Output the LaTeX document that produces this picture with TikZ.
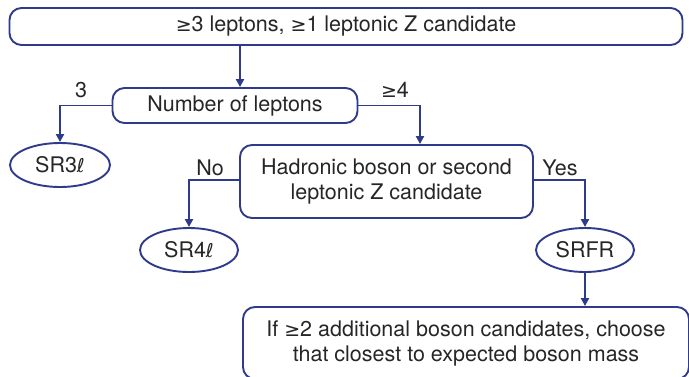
\documentclass[tikz,border=0pt]{standalone}
\usepackage{fontspec}
\setmainfont{TeX Gyre Heros}
\newfontfamily\dv{DejaVu Sans}
\usetikzlibrary{shapes.geometric,arrows.meta}
\definecolor{fc}{HTML}{2E3A8C}
\newcommand{\geqs}{{\dv\fontsize{19}{25}\selectfont ≥}}
\newcommand{\ellsym}{{\dv\fontsize{19}{25}\selectfont ℓ}}
\tikzset{
  box/.style={draw=fc, line width=1.9pt, rounded corners=12pt, align=center, inner sep=0pt},
  oval/.style={draw=fc, line width=1.9pt, ellipse, inner sep=0pt},
  conn/.style={draw=fc, line width=1.9pt, -{Triangle[length=8pt,width=8pt]}},
  lbl/.style={font=\fontsize{21.5}{25}\selectfont, text=black!85}
}
\begin{document}
\begin{tikzpicture}[x=1pt,y=-1pt, every node/.style={font=\fontsize{21.5}{25}\selectfont, text=black!85}]
\useasboundingbox (0,0) rectangle (689,376);
\node[box, minimum width=673pt, minimum height=37pt] (top) at (346,26.5) {\geqs3 leptons, \geqs1 leptonic Z candidate};
\node[box, minimum width=245pt, minimum height=35pt] (num) at (235,105.5) {Number of leptons};
\node[oval, minimum width=100pt, minimum height=44pt] (sr3) at (60,165) {SR3\ellsym};
\node[box, minimum width=293pt, minimum height=73pt] (had) at (386.5,181.5) {Hadronic boson or second\\leptonic Z candidate};
\node[oval, minimum width=98pt, minimum height=44pt] (sr4) at (189,250) {SR4\ellsym};
\node[oval, minimum width=98pt, minimum height=44pt] (srfr) at (585,250) {SRFR};
\node[box, minimum width=446pt, minimum height=72pt] (bot) at (466,343) {If \geqs2 additional boson candidates, choose\\that closest to expected boson mass};
\draw[conn] (top.south -| 240,0) -- (num.north -| 240,0);
\draw[conn] (num.west) -| (sr3.north);
\draw[conn] (num.east) -| (had.north -| 420,0);
\draw[conn] (had.west |- 0,180) -| (sr4.north);
\draw[conn] (had.east |- 0,180) -| (srfr.north);
\draw[conn] (srfr.south) -- (bot.north -| srfr.south);
\node[lbl] (l3) at (81,90) {3};
\node[lbl] (l4) at (395,90) {\geqs4};
\node[lbl] (lno) at (210,168) {No};
\node[lbl] (lyes) at (560,168) {Yes};
\end{tikzpicture}
\end{document}
